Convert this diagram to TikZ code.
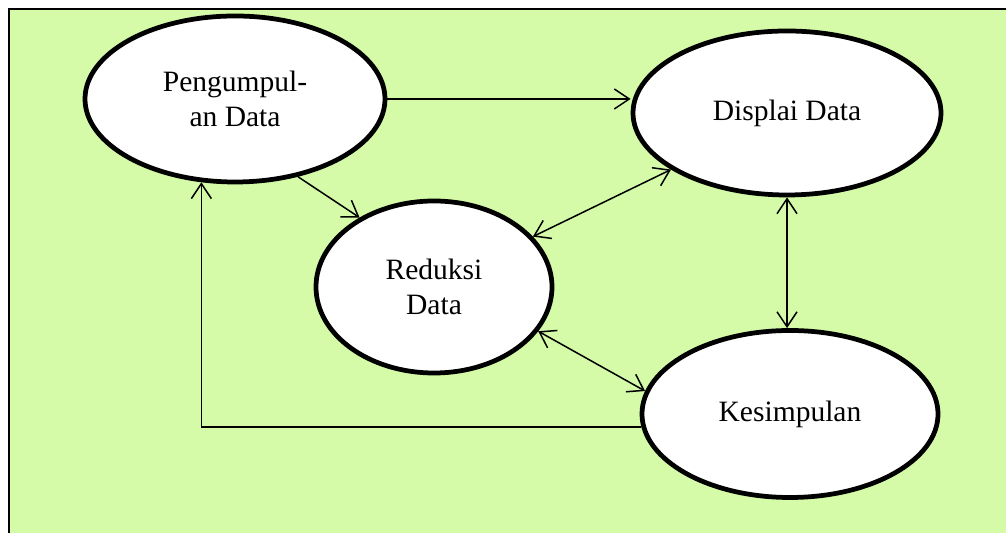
\documentclass[tikz,border=0pt]{standalone}
\usepackage{fontspec}
\setmainfont{Liberation Serif}
\usetikzlibrary{shapes.geometric,arrows.meta}
\definecolor{bggreen}{HTML}{D5FBA9}

\begin{document}
\begin{tikzpicture}[
  stage/.style={ellipse, draw=black, fill=white, line width=0.095cm, inner sep=0pt,
    align=center, font=\fontsize{16.8}{20}\selectfont},
  flow/.style={line width=0.03cm, -{Straight Barb[length=0.3cm,width=0.4cm]}},
  flowboth/.style={line width=0.03cm, {Straight Barb[length=0.3cm,width=0.4cm]}-{Straight Barb[length=0.3cm,width=0.4cm]}}]
\useasboundingbox (0,0) rectangle (20.12,10.66);
\fill [bggreen] (0.18,0) rectangle (20.12,10.48);
\draw [line width=0.045cm] (0.18,0) |- (20.12,10.48);
% the four stages
\node [stage, minimum width=6.0cm, minimum height=3.32cm] (pd) at (4.70,8.68) {Pengumpul-\\an Data};
\node [stage, minimum width=6.16cm, minimum height=3.28cm] (dd) at (15.74,8.40) {Displai Data};
\node [stage, minimum width=4.72cm, minimum height=3.44cm] (rd) at (8.68,4.92) {Reduksi\\Data};
\node [stage, minimum width=5.92cm, minimum height=3.34cm] (ks) at (15.80,2.38) {Kesimpulan};
% links between stages
\draw [flow] (pd.east) -- (pd.east -| dd.west);
\draw [flow] (pd.-51) -- (rd.137);
\draw [flowboth] (dd.206) -- (rd.27);
\draw [flowboth] (rd.-23) -- (ks.171);
\draw [flowboth] (dd.south) -- (dd.south |- ks.north);
\draw [flow] (ks.185) -| (pd.248);
\end{tikzpicture}
\end{document}
